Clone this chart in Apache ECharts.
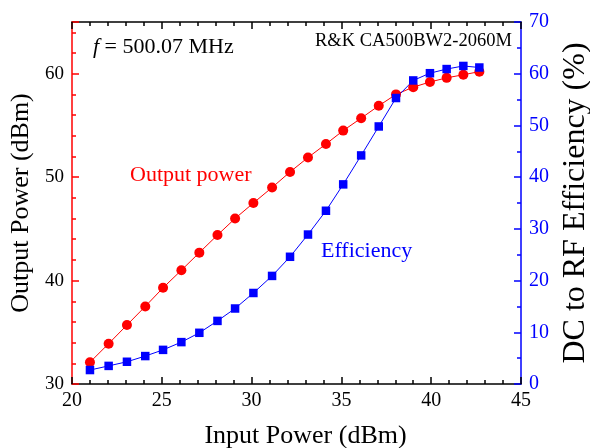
<!doctype html>
<meta charset="utf-8">
<style>
  html, body {
    margin: 0;
    height: 100%;
    background: #fff;
  }

  #chart {
    width: 590px;
    height: 448px;
  }
</style>
<script src="https://cdn.jsdelivr.net/npm/echarts@6/dist/echarts.min.js"></script>

<div id="chart"></div>

<script>
  // input power (dBm)
  const inputPower = [21.0, 22.04, 23.06, 24.08, 25.07, 26.09, 27.09, 28.1, 29.08, 30.1, 31.14, 32.14,
    33.14, 34.14, 35.1, 36.1, 37.08, 38.04, 39.0, 39.93, 40.86, 41.79, 42.68]
  // output power (dBm)
  const outputPower = [32.1, 33.9, 35.7, 37.5, 39.3, 41.0, 42.7, 44.4, 46.0, 47.5, 49.0, 50.5,
    51.9, 53.2, 54.5, 55.7, 56.9, 58.0, 58.7, 59.2, 59.6, 59.9, 60.2]
  // DC to RF efficiency (%)
  const efficiency = [2.7, 3.5, 4.3, 5.4, 6.6, 8.1, 9.9, 12.2, 14.6, 17.6, 20.9, 24.6,
    28.9, 33.5, 38.6, 44.2, 49.8, 55.3, 58.7, 60.1, 60.9, 61.5, 61.2]

  const RED = '#ff0000'
  const BLUE = '#0000ff'
  const FONT = '"Liberation Serif", "Times New Roman", serif'

  let chart = echarts.init(document.getElementById('chart'))

  function axisStyle(color, minorSplit) {
    return {
      axisLine: { show: true, lineStyle: { color: color, width: 1.5 } },
      axisTick: { show: true, inside: true, length: 7, lineStyle: { color: color, width: 1.5 } },
      minorTick: { show: true, splitNumber: minorSplit, length: 4, lineStyle: { color: color, width: 1.5 } },
      splitLine: { show: false },
    }
  }

  chart.setOption({
    animation: false,
    grid: { left: 72, right: 69, top: 22, bottom: 64, containLabel: false, outerBoundsMode: 'none' },
    xAxis: [
      Object.assign({
        type: 'value', min: 20, max: 45, interval: 5,
        name: 'Input Power (dBm)', nameLocation: 'middle', nameGap: 39,
        nameTextStyle: { fontFamily: FONT, fontSize: 26, color: '#000', padding: [0, 0, 0, 18] },
        axisLabel: { fontFamily: FONT, fontSize: 20, color: '#000', margin: 7 },
      }, axisStyle('#000', 5)),
      Object.assign({
        type: 'value', min: 20, max: 45, interval: 5, position: 'top',
        axisLabel: { show: false },
      }, axisStyle('#000', 5)),
    ],
    yAxis: [
      Object.assign({
        type: 'value', min: 30, max: 65, interval: 10,
        name: 'Output Power (dBm)', nameLocation: 'middle', nameGap: 35,
        nameTextStyle: { fontFamily: FONT, fontSize: 26, color: '#000' },
        axisLabel: {
          fontFamily: FONT, fontSize: 19, color: '#000', margin: 8,
          formatter: v => (v === 65 ? '' : v),
        },
      }, axisStyle(RED, 5)),
      Object.assign({
        type: 'value', min: 0, max: 70, interval: 10, position: 'right',
        name: 'DC to RF Efficiency (%)', nameLocation: 'middle', nameGap: 36,
        nameTextStyle: { fontFamily: FONT, fontSize: 32, color: '#000' },
        axisLabel: { fontFamily: FONT, fontSize: 20, color: BLUE, margin: 8 },
      }, axisStyle(BLUE, 2)),
    ],
    series: [
      {
        name: 'Output power',
        type: 'line',
        xAxisIndex: 0,
        yAxisIndex: 0,
        data: inputPower.map((x, i) => [x, outputPower[i]]),
        symbol: 'circle',
        symbolSize: 10,
        itemStyle: { color: RED },
        lineStyle: { color: RED, width: 1 },
      },
      {
        name: 'Efficiency',
        type: 'line',
        xAxisIndex: 0,
        yAxisIndex: 1,
        data: inputPower.map((x, i) => [x, efficiency[i]]),
        symbol: 'rect',
        symbolSize: 8.5,
        itemStyle: { color: BLUE },
        lineStyle: { color: BLUE, width: 1 },
      },
    ],
    graphic: [
      {
        type: 'text', left: 93, top: 36,
        style: {
          text: '{i|f} = 500.07 MHz',
          font: '22px ' + FONT,
          fill: '#000',
          rich: { i: { fontStyle: 'italic', fontFamily: FONT, fontSize: 22 } },
        },
      },
      {
        type: 'text', left: 315, top: 32,
        style: { text: 'R&K CA500BW2-2060M', font: '18.5px ' + FONT, fill: '#000' },
      },
      {
        type: 'text', left: 130, top: 164,
        style: { text: 'Output power', font: '22px ' + FONT, fill: RED },
      },
      {
        type: 'text', left: 321, top: 240,
        style: { text: 'Efficiency', font: '22px ' + FONT, fill: BLUE },
      },
    ],
  })
</script>
